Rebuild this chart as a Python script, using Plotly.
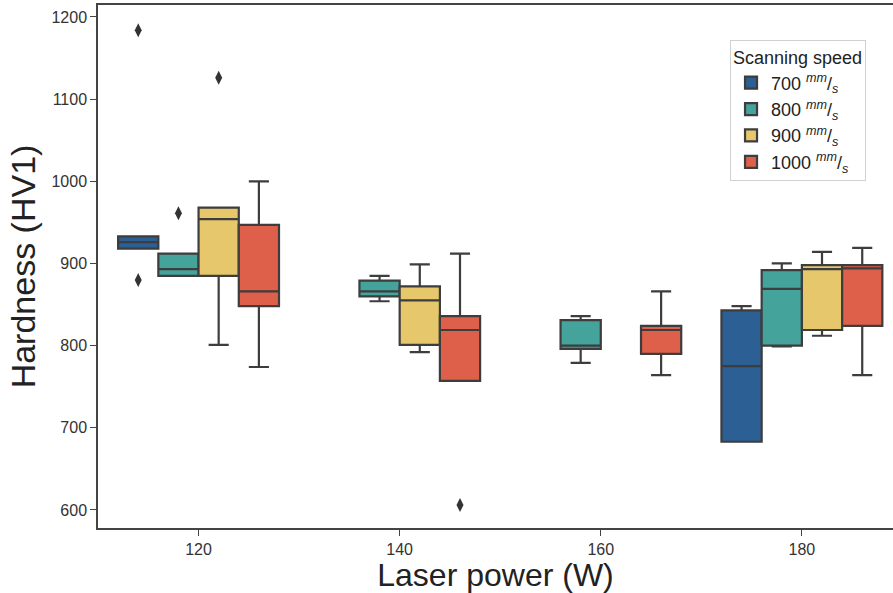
import plotly.graph_objects as go

# ---- data ----
laser_power = ["120", "140", "160", "180"]
speeds = ["700", "800", "900", "1000"]
colors = ["#2c5f93", "#44a39a", "#e6c76b", "#de5f4a"]

# per speed: values for each laser power (None = no data)
q1 = {
    "700":  [918, None, None, 683],
    "800":  [885, 860, 796, 800],
    "900":  [885, 801, None, 819],
    "1000": [848, 757, 790, 824],
}
median = {
    "700":  [926, None, None, 775],
    "800":  [893, 866, 800, 869],
    "900":  [954, 855, None, 893],
    "1000": [866, 819, 819, 894],
}
q3 = {
    "700":  [933, None, None, 843],
    "800":  [912, 879, 831, 892],
    "900":  [968, 872, None, 898],
    "1000": [947, 836, 824, 898],
}
lower = {
    "700":  [918, None, None, 683],
    "800":  [885, 854, 779, 799],
    "900":  [801, 792, None, 812],
    "1000": [774, 757, 764, 764],
}
upper = {
    "700":  [933, None, None, 848],
    "800":  [912, 885, 836, 900],
    "900":  [968, 899, None, 914],
    "1000": [1000, 912, 866, 919],
}
# outliers: (speed, laser power, value)
outlier_speed = ["700", "700", "800", "900", "1000"]
outlier_power = ["120", "120", "120", "120", "140"]
outlier_value = [1184, 880, 961, 1126, 606]

box_width = 0.2

def pos(speed, power):
    j = speeds.index(speed)
    i = laser_power.index(power)
    return i - 0.3 + box_width * j

fig = go.Figure()
line_col = "#3d3d3d"
for j, s in enumerate(speeds):
    xs, a, b, c, d, e = [], [], [], [], [], []
    for i, p in enumerate(laser_power):
        if median[s][i] is None:
            continue
        xs.append(pos(s, p))
        a.append(q1[s][i]); b.append(median[s][i]); c.append(q3[s][i])
        d.append(lower[s][i]); e.append(upper[s][i])
    fig.add_trace(go.Box(
        x=xs, q1=a, median=b, q3=c, lowerfence=d, upperfence=e,
        width=box_width, name=f"{s} <sup><i>mm</i></sup>/<sub><i>s</i></sub>",
        fillcolor=colors[j], line=dict(color=line_col, width=2.2),
        whiskerwidth=0.5, boxpoints=False, hoverinfo="y",
    ))

fig.add_trace(go.Scatter(
    x=[pos(s, p) for s, p in zip(outlier_speed, outlier_power)],
    y=outlier_value, mode="markers", showlegend=False,
    marker=dict(symbol="diamond-tall", size=10, color="#333333"),
))

font_family = "Liberation Sans, Arial, sans-serif"
fig.update_layout(
    width=893, height=593,
    margin=dict(l=98, r=0, t=5, b=65),
    paper_bgcolor="white", plot_bgcolor="white",
    font=dict(family=font_family, color="#333333", size=16),
    boxmode="overlay",
    xaxis=dict(
        range=[-0.5, 3.453], tickmode="array",
        tickvals=list(range(len(laser_power))), ticktext=laser_power,
        showgrid=False, zeroline=False, showline=True, linecolor="#444444",
        linewidth=1.5, mirror=True, ticks="outside", ticklen=6,
        tickcolor="#444444", tickfont=dict(size=16, color="#333333"),
        title=dict(text="Laser power (W)", font=dict(size=32, color="#222222"), standoff=4),
    ),
    yaxis=dict(
        range=[578, 1214.6], tickvals=[600, 700, 800, 900, 1000, 1100, 1200],
        showgrid=False, zeroline=False, showline=True, linecolor="#444444",
        linewidth=1.5, ticks="outside", ticklen=6, tickcolor="#444444",
        tickfont=dict(size=16, color="#333333"),
        title=dict(text="Hardness (HV1)", font=dict(size=34, color="#222222"), standoff=6),
    ),
    legend=dict(
        title=dict(text="Scanning speed", font=dict(size=18, color="#222222")),
        x=0.795, y=0.933, xanchor="left", yanchor="top",
        bgcolor="white", bordercolor="#d0d0d0", borderwidth=1,
        font=dict(size=18, color="#222222"),
    ),
)

fig.write_html("out.html")
